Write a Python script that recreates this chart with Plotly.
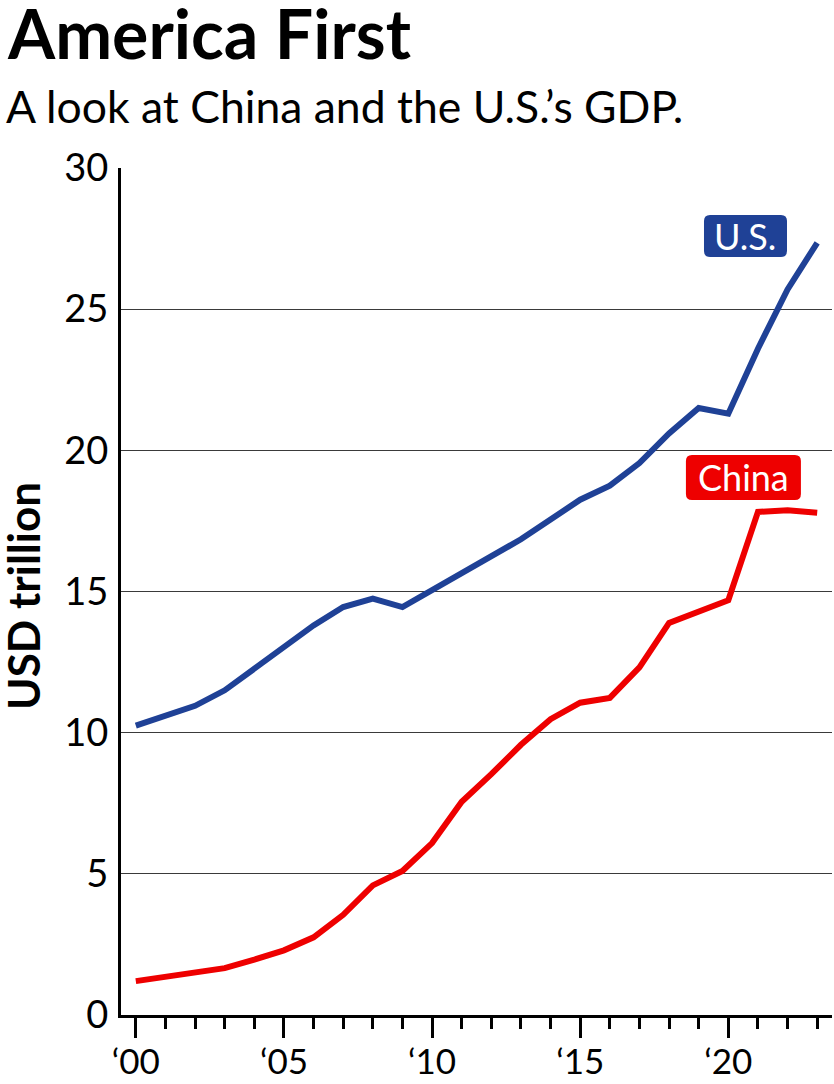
import plotly.graph_objects as go

years = list(range(2000, 2024))
us_gdp = [10.25, 10.6, 10.95, 11.5, 12.25, 13.05, 13.8, 14.45, 14.75, 14.45, 15.05, 15.6,
          16.25, 16.85, 17.55, 18.25, 18.75, 19.55, 20.6, 21.5, 21.3, 23.6, 25.7, 27.35]
china_gdp = [1.2, 1.34, 1.47, 1.66, 1.96, 2.29, 2.75, 3.55, 4.59, 5.1, 6.09, 7.55,
             8.53, 9.57, 10.48, 11.06, 11.23, 12.31, 13.89, 14.28, 14.69, 17.82, 17.88, 17.79]
major_ticks = [2000, 2005, 2010, 2015, 2020]
major_labels = ["\u201800", "\u201805", "\u201810", "\u201815", "\u201820"]
y_ticks = [0, 5, 10, 15, 20, 25, 30]

BLUE = "#1f4196"
RED = "#ee0000"
FONT = "Lato"

W, H = 834, 1084
ML, MR, MT, MB = 121, 2, 168, 69
PW = W - ML - MR
PH = H - MT - MB
X0, X1 = 1999.5, 2023.5
Y0, Y1 = 0, 30
XPX = PW / (X1 - X0)   # pixels per year
YPX = PH / (Y1 - Y0)   # pixels per trillion

def px(x):
    return (x - ML) / PW

def py(y):
    return (H - MB - y) / PH

def rounded_rect(cx, cy, w, h, r):
    # cx, cy in data units; w, h, r in pixels
    hw, hh = w / 2 / XPX, h / 2 / YPX
    rx, ry = r / XPX, r / YPX
    l, rr, b, t = cx - hw, cx + hw, cy - hh, cy + hh
    return (f"M {l+rx},{t} L {rr-rx},{t} Q {rr},{t} {rr},{t-ry} "
            f"L {rr},{b+ry} Q {rr},{b} {rr-rx},{b} L {l+rx},{b} Q {l},{b} {l},{b+ry} "
            f"L {l},{t-ry} Q {l},{t} {l+rx},{t} Z")

fig = go.Figure()
fig.add_trace(go.Scatter(x=years, y=us_gdp, mode="lines", line=dict(color=BLUE, width=6),
                         hoverinfo="skip", showlegend=False))
fig.add_trace(go.Scatter(x=years, y=china_gdp, mode="lines", line=dict(color=RED, width=6),
                         hoverinfo="skip", showlegend=False))

fig.update_layout(
    width=W, height=H,
    margin=dict(l=ML, r=MR, t=MT, b=MB, autoexpand=False),
    paper_bgcolor="white", plot_bgcolor="white",
    font=dict(family=FONT, color="black"),
    xaxis=dict(
        range=[X0, X1], showgrid=False, zeroline=False, automargin=False,
        showline=True, linecolor="black", linewidth=3,
        tickmode="array", tickvals=major_ticks, ticktext=major_labels,
        ticks="outside", ticklen=20, tickwidth=3, tickcolor="black",
        tickfont=dict(size=35, family=FONT), ticklabelstandoff=-6,
        minor=dict(dtick=1, tick0=2000, ticks="outside", ticklen=11, tickwidth=3, tickcolor="black", showgrid=False),
    ),
    yaxis=dict(
        range=[Y0, Y1], tickvals=y_ticks, showgrid=True, gridcolor="#3a3a3a", gridwidth=1,
        zeroline=False, showline=True, linecolor="black", linewidth=3, automargin=False,
        ticks="", tickfont=dict(size=38, family=FONT), ticklabelstandoff=2,
    ),
)

fig.add_annotation(xref="paper", yref="paper", x=px(6), y=py(74), xanchor="left", yanchor="bottom",
                   text="<b>America First</b>", showarrow=False, font=dict(size=68, family=FONT), borderpad=0)
fig.add_annotation(xref="paper", yref="paper", x=px(4), y=py(134), xanchor="left", yanchor="bottom",
                   text="A look at China and the U.S.\u2019s GDP.", showarrow=False, font=dict(size=44.5, family=FONT))
fig.add_annotation(xref="paper", yref="paper", x=px(23), y=py(596), xanchor="center", yanchor="middle",
                   text="<b>USD trillion</b>", textangle=-90, showarrow=False, font=dict(size=44, family=FONT), borderpad=0)

us_cx, us_cy = 2020.58, 27.59
cn_cx, cn_cy = 2020.51, 19.04
fig.add_shape(type="path", path=rounded_rect(us_cx, us_cy, 83, 42, 6), xref="x", yref="y",
              fillcolor=BLUE, line=dict(width=0), layer="above")
fig.add_shape(type="path", path=rounded_rect(cn_cx, cn_cy, 115, 45, 6), xref="x", yref="y",
              fillcolor=RED, line=dict(width=0), layer="above")
fig.add_annotation(x=us_cx, y=us_cy, text="U.S.", showarrow=False,
                   font=dict(color="white", size=36, family=FONT))
fig.add_annotation(x=cn_cx, y=cn_cy, text="China", showarrow=False,
                   font=dict(color="white", size=36, family=FONT))

fig.write_html("out.html", config={"displayModeBar": False},
               post_script="document.body.style.margin='0';")
